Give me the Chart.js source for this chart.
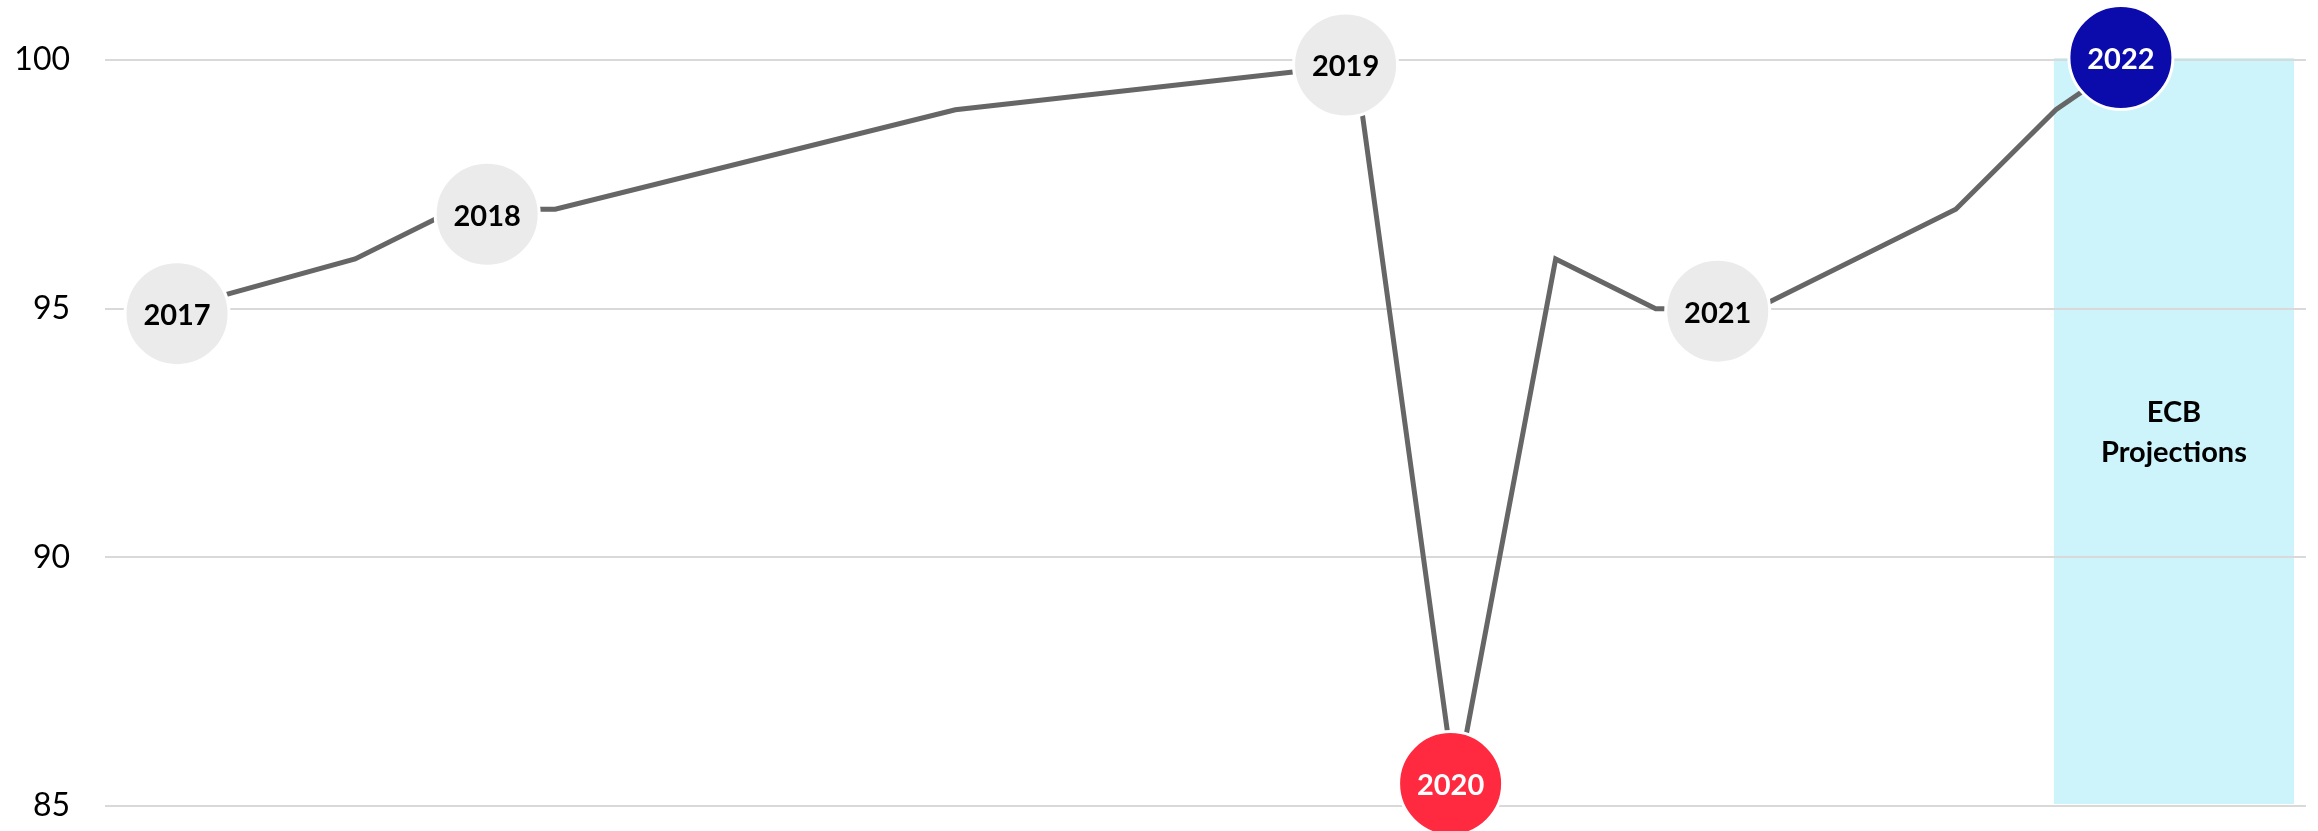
<!DOCTYPE html>
<html>
<head>
<meta charset="utf-8">
<script src="https://cdn.jsdelivr.net/npm/chart.js@4.4.0/dist/chart.umd.min.js"></script>
<style>
  html, body { margin: 0; padding: 0; background: #fff; overflow: hidden; }
  canvas { display: block; }
</style>
</head>
<body>
<canvas id="gdp" width="2318" height="831"></canvas>
<script>
// GDP index path (quarters along x, index level on y)
const periods = [0.7, 2.5, 3.5, 4.5, 8.5, 12.5, 13.5, 14.5, 15.5, 16.5, 18.5, 19.5, 20.15];
const levels  = [95, 96, 97, 97, 99, 99.9, 85.3, 96, 95, 95, 97, 99, 99.9];

// year bubbles placed on the path
const years     = ['2017', '2018', '2019', '2020', '2021', '2022'];
const yearAt    = [0.72, 3.82, 12.4, 13.45, 16.12, 20.15];
const yearLevel = [94.9, 96.9, 99.9, 85.45, 94.95, 100.05];

// y axis ticks
const yTicks = [85, 90, 95, 100];

// shaded projection window
const projectionSpan = [19.48, 21.88];
const projectionLabel = ['ECB', 'Projections'];
const projectionLabelLevel = 92.5;

const GREY = '#ebebeb';
const RED = '#ff2a3f';
const NAVY = '#0b0aab';

function bubbleColor(y) {
  if (y === '2020') return RED;
  if (y === '2022') return NAVY;
  return GREY;
}

const projectionBand = {
  id: 'projectionBand',
  beforeDraw(chart) {
    const { ctx, scales: { x, y } } = chart;
    const left = x.getPixelForValue(projectionSpan[0]);
    const right = x.getPixelForValue(projectionSpan[1]);
    const top = y.getPixelForValue(yTicks[yTicks.length - 1]);
    const bottom = y.getPixelForValue(yTicks[0]);
    ctx.save();
    ctx.fillStyle = '#cdf3fb';
    ctx.fillRect(left, top - 2, right - left, bottom - top);
    ctx.restore();
  },
  afterDatasetsDraw(chart) {
    const { ctx, scales: { x, y } } = chart;
    const cx = x.getPixelForValue((projectionSpan[0] + projectionSpan[1]) / 2);
    const cy = y.getPixelForValue(projectionLabelLevel);
    ctx.save();
    ctx.font = 'bold 29px Lato';
    ctx.fillStyle = '#000';
    ctx.textAlign = 'center';
    ctx.textBaseline = 'middle';
    const lh = 40;
    projectionLabel.forEach((t, i) => {
      ctx.fillText(t, cx, cy + (i - (projectionLabel.length - 1) / 2) * lh);
    });
    ctx.restore();
  }
};

const bubbleLabels = {
  id: 'bubbleLabels',
  afterDatasetsDraw(chart) {
    const { ctx } = chart;
    const meta = chart.getDatasetMeta(0);
    ctx.save();
    ctx.font = 'bold 29px Lato';
    ctx.textAlign = 'center';
    ctx.textBaseline = 'middle';
    meta.data.forEach((pt, i) => {
      ctx.fillStyle = bubbleColor(years[i]) === GREY ? '#000' : '#fff';
      ctx.fillText(years[i], pt.x, pt.y + 2);
    });
    ctx.restore();
  }
};

new Chart(document.getElementById('gdp'), {
  type: 'line',
  data: {
    datasets: [{
      type: 'scatter',
      label: 'years',
      data: years.map((_, i) => ({ x: yearAt[i], y: yearLevel[i] })),
      pointRadius: 52,
      pointHoverRadius: 52,
      pointBackgroundColor: years.map(bubbleColor),
      pointBorderColor: '#fff',
      pointBorderWidth: 3,
      showLine: false,
      clip: false,
      order: 0
    }, {
      label: 'index',
      data: periods.map((p, i) => ({ x: p, y: levels[i] })),
      borderColor: '#666666',
      borderWidth: 5,
      pointRadius: 0,
      tension: 0,
      clip: false,
      order: 1
    }]
  },
  options: {
    responsive: false,
    animation: false,
    layout: { autoPadding: false, padding: { top: 60, right: 12, bottom: 25, left: 0 } },
    plugins: {
      legend: { display: false },
      tooltip: { enabled: false }
    },
    scales: {
      x: { type: 'linear', min: 0, max: 22, display: false },
      y: {
        min: yTicks[0],
        max: yTicks[yTicks.length - 1],
        afterBuildTicks(scale) { scale.ticks = yTicks.map(v => ({ value: v })); },
        afterFit(scale) {
          scale.width = 105;
          // labels may overhang the plot edges
          scale.paddingTop = 0;
          scale.paddingBottom = 0;
        },
        ticks: {
          padding: 35,
          color: '#000',
          font: { family: 'Lato', size: 32 }
        },
        grid: { color: '#d9d9d9', lineWidth: 2, drawTicks: false },
        border: { display: false }
      }
    }
  },
  plugins: [projectionBand, bubbleLabels]
});
</script>
</body>
</html>
